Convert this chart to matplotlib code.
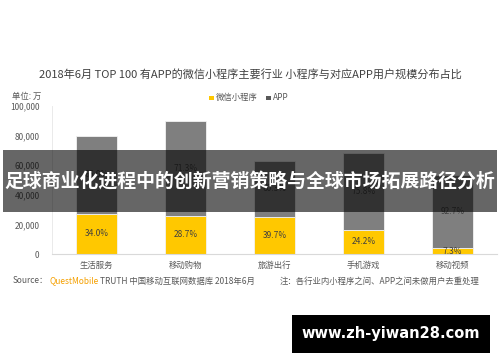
import numpy as np
import matplotlib
matplotlib.use('Agg')
import matplotlib.pyplot as plt
from matplotlib.patches import Rectangle

plt.rcParams['font.family'] = ['Noto Sans CJK SC', 'DejaVu Sans']

CATEGORIES = ['生活服务', '移动购物', '旅游出行', '手机游戏', '移动视频']
# user scale, unit: 万
MINI_USERS = [27200, 25800, 25000, 16500, 3900]
APP_USERS = [52800, 64200, 38000, 51500, 49400]
MINI_SHARE = ['34.0%', '28.7%', '39.7%', '24.2%', '7.3%']
APP_SHARE = ['66.0%', '71.3%', '60.3%', '75.8%', '92.7%']
YTICKS = [0, 20000, 40000, 60000, 80000, 100000]

YELLOW = '#FFC800'
GRAY = '#7F7F7F'
TXT = '#595959'

fig = plt.figure(figsize=(5, 3.62), dpi=100)
ax = fig.add_axes([0.104, 0.2983, 0.89, 0.4089])

x = np.arange(len(CATEGORIES))
w = 0.45
mini = np.array(MINI_USERS)
app = np.array(APP_USERS)
ax.bar(x, mini, w, color=YELLOW, edgecolor='#f2f2f2', lw=0.6, zorder=2)
ax.bar(x, app, w, bottom=mini, color=GRAY, edgecolor='#f2f2f2', lw=0.6, zorder=2)
for i in range(len(x)):
    ax.text(x[i], mini[i] / 2, MINI_SHARE[i], ha='center', va='center',
            fontsize=6, color='#404040', zorder=3)
    ax.text(x[i], mini[i] + app[i] / 2, APP_SHARE[i], ha='center', va='center',
            fontsize=6, color='#404040', zorder=3)

ax.set_xlim(-0.5, len(x) - 0.5)
ax.set_ylim(0, 100000)
ax.set_yticks(YTICKS)
ax.set_yticklabels([f'{v:,}' for v in YTICKS], fontsize=6, color=TXT)
ax.set_xticks(x)
ax.set_xticklabels(CATEGORIES, fontsize=6, color=TXT)
ax.tick_params(length=0, pad=9)
ax.tick_params(axis='x', pad=5)
for s in ['top', 'right']:
    ax.spines[s].set_visible(False)
ax.spines['left'].set_color('#e6e6e6')
ax.spines['bottom'].set_color('#d9d9d9')
ax.spines['left'].set_linewidth(0.6)

fig.text(0.5, 0.796, '2018年6月 TOP 100 有APP的微信小程序主要行业 小程序与对应APP用户规模分布占比',
         ha='center', va='center', fontsize=8, color='#404040')
fig.text(0.024, 0.735, '单位: 万', ha='left', va='center', fontsize=6, color=TXT)

# legend
fig.patches.append(Rectangle((0.418, 0.724), 0.009, 0.012, facecolor=YELLOW, lw=0,
                             transform=fig.transFigure))
fig.text(0.431, 0.730, '微信小程序', ha='left', va='center', fontsize=6, color=TXT)
fig.patches.append(Rectangle((0.532, 0.724), 0.009, 0.012, facecolor='#595959', lw=0,
                             transform=fig.transFigure))
fig.text(0.545, 0.730, 'APP', ha='left', va='center', fontsize=6, color=TXT)

# source line
fig.text(0.026, 0.224, 'Source：', ha='left', va='center', fontsize=6, color=TXT)
fig.text(0.1, 0.224, 'QuestMobile', ha='left', va='center', fontsize=6, color='#F5A000')
fig.text(0.2, 0.224, 'TRUTH 中国移动互联网数据库 2018年6月', ha='left', va='center', fontsize=6, color=TXT)
fig.text(0.56, 0.224, '注：各行业内小程序之间、APP之间未做用户去重处理', ha='left', va='center', fontsize=6, color=TXT)

# overlay band
fig.patches.append(Rectangle((0.006, 0.4144), 0.988, 0.1712, facecolor='black', lw=0,
                             alpha=0.6, transform=fig.transFigure, zorder=10))
fig.text(0.5, 0.5, '足球商业化进程中的创新营销策略与全球市场拓展路径分析', ha='center', va='center',
         fontsize=13.6, fontweight='bold', color='white', zorder=11)

# watermark box
fig.patches.append(Rectangle((0.584, 0.0249), 0.396, 0.1049, facecolor='black', lw=0,
                             transform=fig.transFigure, zorder=10))
fig.text(0.782, 0.0774, 'www.zh-yiwan28.com', ha='center', va='center', fontsize=10.5,
         fontweight='bold', color='white', family='DejaVu Sans', zorder=11)

fig.savefig('out.png', dpi=100)
plt.close(fig)
